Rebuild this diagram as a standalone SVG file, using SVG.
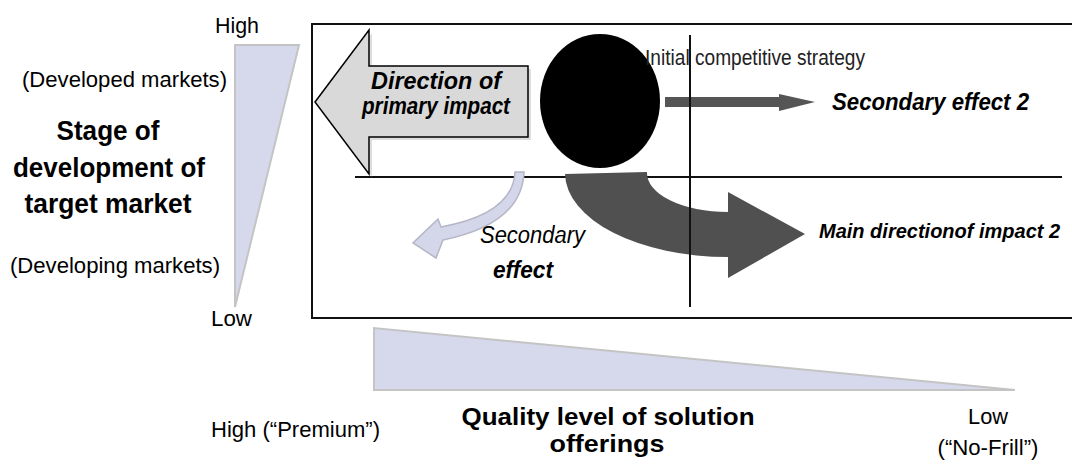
<svg xmlns="http://www.w3.org/2000/svg" width="1072" height="469" viewBox="0 0 1072 469">
<style>
text{font-family:"Liberation Sans",Arial,Helvetica,sans-serif;fill:#000}
.lbl{font-size:22px}
.big{font-size:27px;font-weight:bold}
.bq{font-size:24px;font-weight:bold}
.bi{font-size:23px;font-weight:bold;font-style:italic}
.it{font-size:23px;font-style:italic}
.wedge{fill:#d6d9ec;stroke:#c4c4c4;stroke-width:2}
.axis{stroke:#111;stroke-width:2;fill:none}
</style>
<rect width="1072" height="469" fill="#fff"/>
<g id="left-scale">
<polygon class="wedge" points="235,45 299,45 235,307"/>
<text class="lbl" x="215" y="33" textLength="44" lengthAdjust="spacingAndGlyphs">High</text>
<text class="lbl" x="22" y="87" textLength="205" lengthAdjust="spacingAndGlyphs">(Developed markets)</text>
<text class="big" x="108" y="140" text-anchor="middle" textLength="103" lengthAdjust="spacingAndGlyphs">Stage of</text>
<text class="big" x="109" y="177" text-anchor="middle" textLength="192" lengthAdjust="spacingAndGlyphs">development of</text>
<text class="big" x="108" y="213" text-anchor="middle" textLength="167" lengthAdjust="spacingAndGlyphs">target market</text>
<text class="lbl" x="10" y="273" textLength="210" lengthAdjust="spacingAndGlyphs">(Developing markets)</text>
<text class="lbl" x="211" y="326" textLength="41" lengthAdjust="spacingAndGlyphs">Low</text>
</g>
<g id="bottom-scale">
<polygon class="wedge" points="374,328 374,390 1015,390"/>
<text class="lbl" x="211" y="437" textLength="169" lengthAdjust="spacingAndGlyphs">High (“Premium”)</text>
<text class="bq" x="608" y="425" text-anchor="middle" textLength="293" lengthAdjust="spacingAndGlyphs">Quality level of solution</text>
<text class="bq" x="607" y="452" text-anchor="middle" textLength="115" lengthAdjust="spacingAndGlyphs">offerings</text>
<text class="lbl" x="988" y="424" text-anchor="middle" textLength="40" lengthAdjust="spacingAndGlyphs">Low</text>
<text class="lbl" x="988" y="455" text-anchor="middle" textLength="101" lengthAdjust="spacingAndGlyphs">(“No-Frill”)</text>
</g>
<g id="frame">
<rect x="312" y="24" width="780" height="294" class="axis"/>
<line x1="355" y1="177" x2="1062" y2="177" stroke="#111" stroke-width="2"/>
</g>
<g id="connectors">
<g id="primary-impact">
<polygon points="318,105 372,33 372,69 531,69 531,140 372,140 372,177" fill="#c8c8c8" opacity="0.6"/>
<polygon points="315,102 369,30 369,66 528,66 528,137 369,137 369,174" fill="#d9d9d9" stroke="#000" stroke-width="1.5"/>
<text class="bi" x="436" y="89" text-anchor="middle" textLength="130" lengthAdjust="spacingAndGlyphs">Direction of</text>
<text class="bi" x="436" y="114" text-anchor="middle" textLength="148" lengthAdjust="spacingAndGlyphs">primary impact</text>
</g>
<g id="secondary-effect-arrow">
<path d="M515,172 Q513,214 441,227 L438,219 L413,243 L436,258 L443,240 Q522,224 524,172 Z" fill="#d4d7e9" stroke="#b4b6c6" stroke-width="1.5"/>
</g>
<g id="main-impact-arrow">
<path d="M565,174 L647,172 A81,39 0 0 0 728,212 L728,192 L805,234 L728,278 L728,257 A163,84 0 0 1 565,174 Z" fill="#505050"/>
</g>
<g id="secondary-effect-2-arrow">
<polygon points="665,97 779,97 779,94 815,102 779,111 779,107 665,107" fill="#555"/>
</g>
</g>
<g id="initial-strategy">
<ellipse cx="600" cy="101" rx="60" ry="67" fill="#000"/>
<text class="lbl" x="645" y="65" textLength="220" lengthAdjust="spacingAndGlyphs" style="fill:#222">Initial competitive strategy</text>
</g>
<g id="vertical-axis">
<line x1="690" y1="35" x2="690" y2="307" stroke="#111" stroke-width="2"/>
</g>
<g id="labels">
<text class="bi" x="832" y="110" textLength="197" lengthAdjust="spacingAndGlyphs">Secondary effect 2</text>
<text x="819" y="238" style="font-size:20px;font-weight:bold;font-style:italic">Main directionof impact 2</text>
<text class="it" x="480" y="243" textLength="105" lengthAdjust="spacingAndGlyphs">Secondary</text>
<text class="bi" x="493" y="278" textLength="60" lengthAdjust="spacingAndGlyphs">effect</text>
</g>
</svg>
